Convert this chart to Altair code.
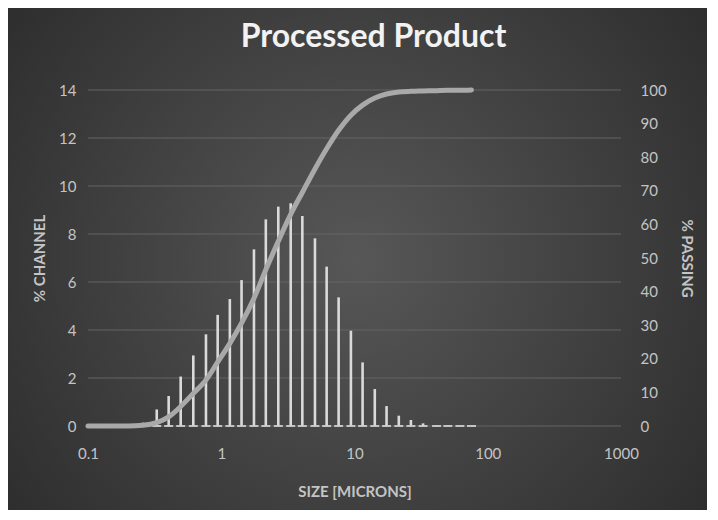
import altair as alt
import pandas as pd

# --- data ---
bar_sizes = [0.259, 0.328, 0.403, 0.496, 0.617, 0.768, 0.940, 1.16, 1.42, 1.76,
             2.16, 2.68, 3.32, 4.06, 5.05, 6.18, 7.60, 9.40, 11.5, 14.2,
             17.4, 21.5, 26.5, 32.7, 41.3, 50.2, 61.8, 75.5]
channel_pct = [0.14, 0.69, 1.25, 2.06, 2.94, 3.82, 4.63, 5.29, 6.08, 7.36,
               8.61, 9.14, 9.28, 8.75, 7.82, 6.64, 5.36, 3.97, 2.65, 1.54,
               0.83, 0.43, 0.25, 0.11, 0.03, 0.02, 0.01, 0.01]

curve_sizes = [0.1, 0.15, 0.2, 0.259, 0.328, 0.403, 0.496, 0.617, 0.768, 0.940,
               1.16, 1.42, 1.76, 2.16, 2.68, 3.32, 4.06, 5.05, 6.18, 7.60,
               9.40, 11.5, 14.2, 17.4, 21.5, 26.5, 32.7, 41.3, 50.2, 61.8, 75.5]
passing_pct = [0, 0, 0, 0.2, 1.0, 2.7, 5.8, 9.7, 13.7, 19.0,
               24.6, 30.6, 38, 46.5, 55, 63, 69.5, 76.5, 82.5, 88,
               92.5, 95.5, 97.6, 98.8, 99.4, 99.6, 99.7, 99.8, 99.9, 99.9, 100]

x_ticks = [0.1, 1, 10, 100, 1000]
left_ticks = [0, 2, 4, 6, 8, 10, 12, 14]
right_ticks = [0, 10, 20, 30, 40, 50, 60, 70, 80, 90, 100]

bars_df = pd.DataFrame({"size": bar_sizes, "channel": channel_pct})
curve_df = pd.DataFrame({"size": curve_sizes, "passing": passing_pct})
grid_df = pd.DataFrame({"v": left_ticks})

W, H = 533, 336
PAD = {"left": 80, "top": 82, "right": 86, "bottom": 84}
FONT = "Lato"
LABEL_C = "#c4c4c4"

xscale = alt.Scale(type="log", domain=[0.1, 1000])
xaxis = alt.Axis(values=x_ticks, format="~g", title="SIZE [MICRONS]",
                 domain=False, ticks=False, grid=False, labelPadding=20,
                 titlePadding=23, labelFont=FONT, labelFontSize=15,
                 labelColor=LABEL_C, titleFont=FONT, titleFontSize=15,
                 titleFontWeight="bold", titleColor=LABEL_C, labelFlush=False,
                 zindex=2)

bg = alt.Chart(pd.DataFrame({"a": [0]})).mark_rect(
    color=alt.Gradient(
        gradient="radial", x1=0.5, y1=0.5, x2=0.5, y2=0.5, r1=0, r2=0.72,
        stops=[alt.GradientStop(offset=0, color="#575757"),
               alt.GradientStop(offset=1, color="#272727")])
).encode(
    x=alt.value(-PAD["left"]), x2=alt.value(W + PAD["right"]),
    y=alt.value(-PAD["top"]), y2=alt.value(H + PAD["bottom"]),
)

yleft = alt.Scale(domain=[0, 14], nice=False)
yleft_axis = alt.Axis(values=left_ticks, title="% CHANNEL", orient="left",
                      domain=False, ticks=False, grid=False,
                      labelPadding=12, titlePadding=11,
                      labelFont=FONT, labelFontSize=15, labelColor=LABEL_C,
                      titleFont=FONT, titleFontSize=15, titleFontWeight="bold",
                      titleColor=LABEL_C, zindex=2)

grid = alt.Chart(grid_df).mark_rule(color="#646464", strokeWidth=1).encode(
    y=alt.Y("v:Q", scale=yleft, axis=yleft_axis),
)
bars = alt.Chart(bars_df).mark_rule(color="#dadada", strokeWidth=2.6).encode(
    x=alt.X("size:Q", scale=xscale, axis=xaxis),
    y=alt.Y("channel:Q", scale=yleft, axis=yleft_axis),
    y2=alt.datum(0),
)
feet = alt.Chart(bars_df).mark_tick(orient="horizontal", size=9, thickness=2,
                                    color="#cfcfcf", opacity=0.9).encode(
    x=alt.X("size:Q", scale=xscale, axis=xaxis),
    y=alt.datum(0, scale=yleft, axis=yleft_axis),
)
left_layer = alt.layer(grid, bars, feet)

yright = alt.Scale(domain=[0, 100], nice=False)
yright_axis = alt.Axis(values=right_ticks, title="% PASSING", orient="right",
                       domain=False, ticks=False, grid=False, labelPadding=19,
                       titlePadding=12, labelFont=FONT, labelFontSize=15,
                       labelColor=LABEL_C, titleFont=FONT, titleFontSize=15,
                       titleFontWeight="bold", titleColor=LABEL_C, zindex=2)

curve = alt.Chart(curve_df).mark_line(color="#a9a9a9", strokeWidth=5,
                                      interpolate="monotone",
                                      strokeCap="round").encode(
    x=alt.X("size:Q", scale=xscale, axis=xaxis),
    y=alt.Y("passing:Q", scale=yright, axis=yright_axis),
)

chart = alt.layer(bg, left_layer, curve).resolve_scale(
    y="independent"
).properties(
    width=W, height=H,
    autosize=alt.AutoSizeParams(type="none"),
    padding=PAD,
    background="#333333",
    title=alt.TitleParams("Processed Product", font=FONT, fontSize=32,
                          fontWeight="bold", color="#f2f2f2", anchor="middle",
                          frame="group", baseline="middle", dx=19, dy=114,
                          offset=53),
).configure_view(stroke=None)

chart.save("out.html", embed_options={"renderer": "svg", "actions": False})
